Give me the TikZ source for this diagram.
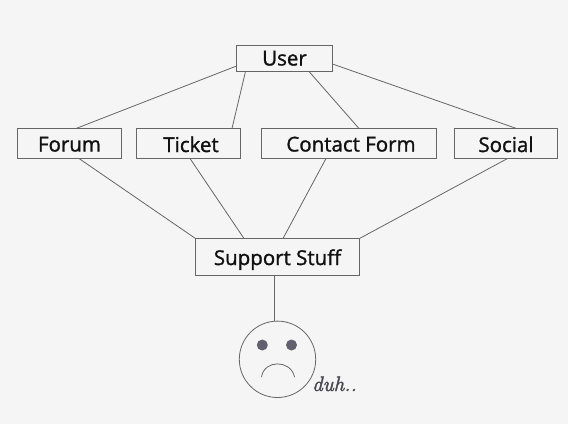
\documentclass[tikz,border=0pt]{standalone}
\usepackage{fontspec}
\setmainfont{Open Sans}
\usepackage{tikz}
\usetikzlibrary{positioning,calc}
\definecolor{paper}{HTML}{F5F5F5}
\definecolor{wire}{HTML}{666666}
\definecolor{ink}{HTML}{111111}
\definecolor{eye}{HTML}{625F6E}
\newfontfamily\boxfont{Open Sans}[RawFeature={embolden=1.3}]
\newfontfamily\duhfont{Latin Modern Roman}[RawFeature={embolden=2}]

\begin{document}
\begin{tikzpicture}[x=1pt, y=-1pt, node distance=15pt,
    boxnode/.style={draw=wire, line width=0.8pt, outer sep=0pt, inner sep=0pt, minimum height=30pt, text=ink, text height=16pt, text depth=0pt, font=\boxfont\fontsize{20.5}{24}\selectfont},
    link/.style={draw=wire, line width=0.8pt}]
  \fill[paper] (0,0) rectangle (568,424);
  \useasboundingbox (0,0) rectangle (568,424);

  \node[boxnode, minimum width=96pt, minimum height=26pt, text height=14pt] (user) at (284.5,58.5) {User\hspace{3pt}};
  \node[boxnode, minimum width=104pt] (forum) at (69.5,143.5) {Forum};
  \node[boxnode, minimum width=104pt, right=15pt of forum, text height=17pt] (ticket) {\hspace{5pt}Ticket};
  \node[boxnode, minimum width=175pt, right=21pt of ticket] (contact) {\hspace{4pt}Contact Form};
  \node[boxnode, minimum width=103pt, right=18pt of contact, text height=17pt] (social) {Social\hspace{5pt}};
  \node[boxnode, minimum width=164pt, minimum height=37pt] (support) at (277.5,257) {Support Stuff};
  \node[draw=wire, line width=0.8pt, circle, outer sep=0pt, inner sep=0pt, minimum size=76.4pt] (face) at (277.5,359.3) {};
  \node[circle, fill=eye, inner sep=0pt, minimum size=11pt] (eyeL) at (262.3,345) {};
  \node[circle, fill=eye, inner sep=0pt, minimum size=11pt] (eyeR) at (291.5,345) {};
  \coordinate (mouthL) at (261.5,377);
  \coordinate (mouthR) at (294.5,377);
  \node[text=eye!75!black, font=\duhfont\itshape\fontsize{21}{24}\selectfont, inner sep=0pt, anchor=base west] (duh) at (312,391) {duh..};

  \draw[link] ([yshift=-7.5pt]user.west) -- ([xshift=6.5pt]forum.north);
  \draw[link] ([xshift=9pt]user.south west) -- ([xshift=43.5pt]ticket.north);
  \draw[link] ([xshift=24.5pt]user.south) -- ([xshift=10pt]contact.north);
  \draw[link] ([yshift=-5.5pt]user.east) -- ([xshift=10.5pt]social.north);

  \draw[link] ([xshift=9.5pt]forum.south) -- (support.north west);
  \draw[link] ([xshift=1.5pt]ticket.south) -- ([xshift=-33.5pt]support.north);
  \draw[link] ([xshift=-23pt]contact.south) -- ([xshift=5.5pt]support.north);
  \draw[link] ([xshift=1.5pt]social.south) -- (support.north east);
  \draw[link] ([xshift=-3pt]support.south) -- ([xshift=-3pt]face.north);

  \draw[link] (mouthL) .. controls (264,359.5) and (291,359.5) .. (mouthR);
\end{tikzpicture}
\end{document}
